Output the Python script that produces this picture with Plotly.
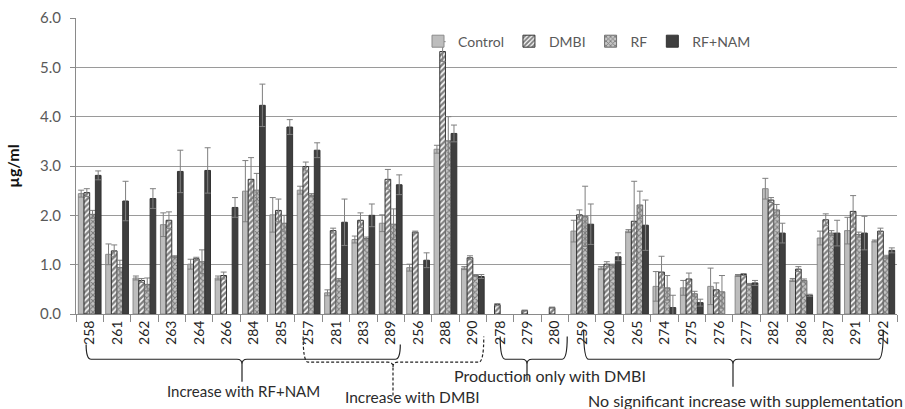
import plotly.graph_objects as go

# Isolates (x-axis categories)
categories = ["258", "261", "262", "263", "264", "266", "284", "285", "257", "281",
              "283", "289", "256", "288", "290", "278", "279", "280", "259", "260",
              "265", "274", "275", "276", "277", "282", "286", "287", "291", "292"]

# Mean concentrations (ug/ml); None = not detected
control = [2.44, 1.21, 0.73, 1.81, 1.01, 0.73, 2.49, 2.01, 2.51, 0.43,
           1.51, 1.84, 0.94, 3.34, 0.93, None, None, None, 1.68, 0.93,
           1.68, 0.56, 0.53, 0.56, 0.78, 2.54, 0.69, 1.54, 1.69, 1.48]
control_err = [0.07, 0.21, 0.04, 0.24, 0.10, 0.04, 0.62, 0.35, 0.08, 0.06,
               0.07, 0.17, 0.07, 0.08, 0.03, None, None, None, 0.22, 0.03,
               0.03, 0.30, 0.15, 0.37, 0.02, 0.21, 0.03, 0.14, 0.27, 0.02]

dmbi = [2.46, 1.28, 0.68, 1.90, 1.12, 0.78, 2.73, 2.10, 2.99, 1.69,
        1.90, 2.73, 1.66, 5.32, 1.14, 0.19, 0.07, 0.13, 2.01, 1.01,
        1.88, 0.85, 0.71, 0.49, 0.80, 2.31, 0.91, 1.91, 2.08, 1.68]
dmbi_err = [0.08, 0.12, 0.04, 0.17, 0.03, 0.07, 0.44, 0.23, 0.09, 0.05,
            0.15, 0.20, 0.02, 0.20, 0.04, 0.02, 0.01, 0.01, 0.10, 0.05,
            0.81, 0.32, 0.12, 0.14, 0.02, 0.05, 0.05, 0.12, 0.32, 0.06]

rf = [2.02, 0.94, 0.60, 1.16, 1.06, None, 2.51, 1.84, 2.41, 0.69,
      1.53, 1.82, None, 3.51, 0.78, None, None, None, 1.98, 0.98,
      2.21, 0.53, 0.41, 0.45, 0.60, 2.11, 0.68, 1.64, 1.61, 1.16]
rf_err = [0.08, 0.15, 0.13, 0.02, 0.24, None, 0.34, 0.16, 0.03, 0.03,
          0.03, 0.31, None, 0.49, 0.02, None, None, None, 0.61, 0.03,
          0.28, 0.25, 0.05, 0.33, 0.02, 0.11, 0.03, 0.05, 0.05, 0.03]

rf_nam = [2.81, 2.29, 2.34, 2.89, 2.91, 2.16, 4.23, 3.79, 3.32, 1.86,
          2.00, 2.62, 1.09, 3.66, 0.76, None, None, None, 1.82, 1.16,
          1.80, 0.13, 0.23, None, 0.63, 1.64, 0.38, 1.64, 1.64, 1.29]
rf_nam_err = [0.09, 0.40, 0.20, 0.43, 0.46, 0.20, 0.43, 0.15, 0.15, 0.47,
              0.23, 0.20, 0.15, 0.17, 0.04, None, None, None, 0.41, 0.08,
              0.51, 0.25, 0.07, None, 0.05, 0.20, 0.02, 0.26, 0.34, 0.05]

# Bracket groupings beneath the axis: (first category, last category, label, dashed)
groups = [
    ("258", "289", "Increase with RF+NAM", False),
    ("257", "290", "Increase with DMBI", True),
    ("278", "280", "Production only with DMBI", False),
    ("259", "292", "No significant increase with supplementation", False),
]

FONT = "Lato"
W, H = 905, 409
ML, MR, MT, MB = 76, 8, 13, 95
PW, PH = W - ML - MR, H - MT - MB
N = len(categories)

err_style = dict(type="data", symmetric=True, color="#7f7f7f", thickness=1, width=3)

fig = go.Figure()
fig.add_trace(go.Bar(
    name="Control", x=categories, y=control,
    error_y=dict(array=control_err, **err_style),
    marker=dict(color="#bdbdbd", line=dict(color="#8a8a8a", width=1)),
))
fig.add_trace(go.Bar(
    name="DMBI", x=categories, y=dmbi,
    error_y=dict(array=dmbi_err, **err_style),
    marker=dict(color="white", line=dict(color="#333333", width=1),
                pattern=dict(shape="/", fgcolor="black", bgcolor="white",
                             size=4, solidity=0.6)),
))
fig.add_trace(go.Bar(
    name="RF", x=categories, y=rf,
    error_y=dict(array=rf_err, **err_style),
    marker=dict(color="#a8a8a8", line=dict(color="#6f6f6f", width=1),
                pattern=dict(shape="x", fgcolor="#2e2e2e", bgcolor="#c4c4c4",
                             size=4, solidity=0.45)),
))
fig.add_trace(go.Bar(
    name="RF+NAM", x=categories, y=rf_nam,
    error_y=dict(array=rf_nam_err, **err_style),
    marker=dict(color="#3f3f3f", line=dict(color="#333333", width=1)),
))


def px_to_paper(px, py):
    return (px - ML) / PW, (H - MB - py) / PH


def cat_px(name, offset=0.0):
    i = categories.index(name)
    return ML + (i + 0.5 + offset) * PW / N


def brace_path(xl, xr, xt, y_top, y_line, y_tip, r=5):
    pts = [
        ("M", [(xl, y_top)]),
        ("Q", [(xl, y_line), (xl + r, y_line)]),
        ("L", [(xt - r, y_line)]),
        ("Q", [(xt, y_line), (xt, y_line + r)]),
        ("L", [(xt, y_tip)]),
        ("M", [(xt, y_line + r)]),
        ("Q", [(xt, y_line), (xt + r, y_line)]),
        ("L", [(xr - r, y_line)]),
        ("Q", [(xr, y_line), (xr, y_top)]),
    ]
    parts = []
    for cmd, coords in pts:
        c = " ".join("%.5f,%.5f" % px_to_paper(x, y) for x, y in coords)
        parts.append(cmd + " " + c)
    return " ".join(parts)


# (left offset, right offset, tip x, top y, line y, tip y, label x, label y, label size)
brace_geom = [
    (-0.13, 0.35, 242, 345, 360, 383, 243, 392, 15),
    (-0.2, 0.4, 393, 337, 363, 397, 412, 398, 15.5),
    (0.0, 0.45, 527, 337, 360, 382, 550, 377, 16),
    (0.05, 0.0, 733, 330, 360, 388, 745, 402, 16),
]

for (first, last, label, dashed), g in zip(groups, brace_geom):
    lo, ro, xt, yt, yl, ytip, lx, ly, fs = g
    xl = cat_px(first, lo)
    xr = min(cat_px(last, ro), W - MR)
    fig.add_shape(
        type="path", xref="paper", yref="paper",
        path=brace_path(xl, xr, xt, yt, yl, ytip),
        line=dict(color="#222222", width=1.2, dash="3px,2px" if dashed else "solid"),
        layer="above",
    )
    ax, ay = px_to_paper(lx, ly)
    fig.add_annotation(
        text=label, xref="paper", yref="paper", x=ax, y=ay,
        xanchor="center", yanchor="middle", showarrow=False,
        font=dict(family=FONT, size=fs, color="#2b2b2b"),
    )

leg_x, leg_y = px_to_paper(418, 37)

fig.update_layout(
    width=W, height=H,
    margin=dict(l=ML, r=MR, t=MT, b=MB),
    paper_bgcolor="white", plot_bgcolor="white",
    barmode="group", bargap=0.17, bargroupgap=0.0,
    font=dict(family=FONT, size=14, color="#404040"),
    showlegend=True,
    legend=dict(orientation="h", x=leg_x, y=leg_y, xanchor="left", yanchor="middle",
                bgcolor="rgba(0,0,0,0)", itemwidth=30, tracegroupgap=0,
                font=dict(family=FONT, size=14, color="#595959")),
    xaxis=dict(
        type="category", tickangle=-90, showline=True, linecolor="#8a8a8a",
        ticks="outside", tickson="boundaries", ticklen=7, tickcolor="#8a8a8a",
        tickfont=dict(family=FONT, size=14, color="#1e1e1e"),
        showgrid=False, range=[-0.5, N - 0.5],
    ),
    yaxis=dict(
        range=[0, 6], dtick=1, tickformat=".1f", showline=True, linecolor="#8a8a8a",
        ticks="outside", ticklen=5, tickcolor="#8a8a8a", ticklabelstandoff=6,
        showgrid=True, gridcolor="#9a9a9a", gridwidth=1, zeroline=False,
        tickfont=dict(family=FONT, size=15, color="#595959"),
        title=dict(text="<b>µg/ml</b>", standoff=16,
                   font=dict(family=FONT, size=16, color="#111111")),
    ),
)

fig.write_html("out.html")
